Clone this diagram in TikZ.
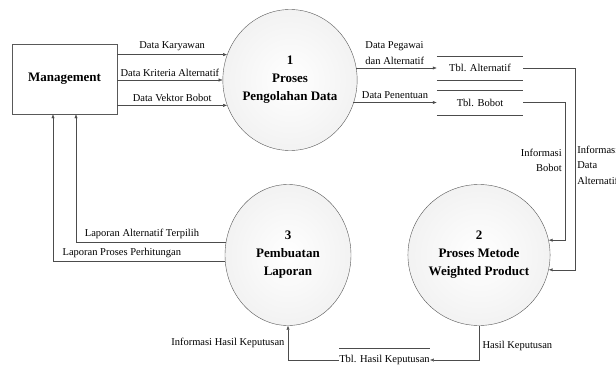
\documentclass[tikz,border=0pt]{standalone}
\usepackage{fontspec}
\setmainfont{Liberation Serif}
\usetikzlibrary{shapes.geometric,arrows.meta}

\tikzset{
    proc/.style={ellipse, draw=gray!70!black, inner color=white, outer color=gray!10,
        minimum width=126pt, minimum height=141pt, inner sep=0pt, align=center,
        font=\fontsize{13}{18}\selectfont\bfseries},
    flow/.style={draw=gray!60!black, -{Latex[length=4pt,width=3.2pt]}},
    lbl/.style={font=\fontsize{10.5}{15.5}\selectfont, text=black},
    store/.style={minimum width=86pt, minimum height=24pt, inner sep=0pt,
        font=\fontsize{10.5}{13}\selectfont}
}

\begin{document}
\begin{tikzpicture}[x=1pt,y=-1pt]
            \useasboundingbox (0,0) rectangle (616,369);

            %entity
            \node[draw=gray!70!black, minimum width=105pt, minimum height=70pt,
                font=\fontsize{13}{16}\selectfont\bfseries] (mgmt) at (64.5,79) {Management};

            %processes
            \node[proc] (p1) at (290,80) {1\\Proses\\Pengolahan Data};

            \node[proc] (p2) at (479,255) {2\\Proses Metode\\Weighted Product};

            \node[proc] (p3) at (288,255) {3\\Pembuatan\\Laporan};

            %stores
            \node[store] (tA) at (480,68) {Tbl. Alternatif};

            \node[store] (tB) at (480,102.5) {Tbl. Bobot};

            \node[store] (tH) at (384.5,360) {Tbl. Hasil Keputusan};

            \foreach \t in {tA,tB}
                \draw[gray!60!black] (\t.north west) -- (\t.north east) (\t.south west) -- (\t.south east);

            \draw[gray!60!black] (tH.north west) -- (tH.north east);

            %management to process 1
            \draw[flow] (mgmt.east |- p1.158) -- (p1.158) node[lbl, midway, above] {Data Karyawan};

            \draw[flow] (mgmt.east |- p1.180) -- (p1.180) node[lbl, midway, above] {Data Kriteria Alternatif};

            \draw[flow] (mgmt.east |- p1.202) -- (p1.202) node[lbl, midway, above] {Data Vektor Bobot};

            %process 1 to stores
            \draw[flow] (tA.west -| p1.11) -- (tA.west)
                node[lbl, pos=.1, above right, align=left, inner xsep=1pt] {Data Pegawai\\dan Alternatif};

            \draw[flow] (tB.west -| p1.-21) -- (tB.west) node[lbl, midway, above] {Data Penentuan};

            %stores to process 2
            \draw[flow] (tA.east) -- ++(52,0) |- (p2.-12)
                node[lbl, pos=.24, right, align=left, inner xsep=2pt] {Informasi\\Data\\Alternatif};

            \draw[flow] (tB.east) -- ++(42,0) |- (p2.12)
                node[lbl, pos=.21, left, align=right] {Informasi\\Bobot};

            %process 2 to process 3
            \draw[flow] (p2.south) |- (tH.east) node[lbl, pos=.3, right] {Hasil Keputusan};

            \draw[flow] (tH.west) -| (p3.south) node[lbl, pos=.75, left] {Informasi Hasil Keputusan};

            %process 3 to management
            \draw[flow] (p3.168) -| ([xshift=11.5pt]mgmt.south) node[lbl, pos=.28, above] {Laporan Alternatif Terpilih};

            \draw[flow] (p3.186) -| ([xshift=-11.5pt]mgmt.south) node[lbl, pos=.3, above] {Laporan Proses Perhitungan};
\end{tikzpicture}
\end{document}
